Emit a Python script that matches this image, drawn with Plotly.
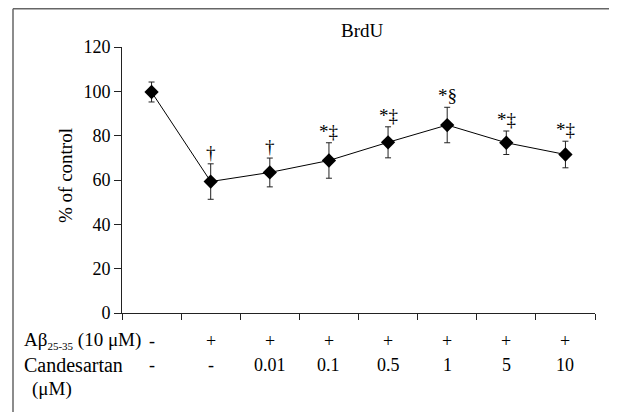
import plotly.graph_objects as go

# ---- data ----
ab_labels = ["-", "+", "+", "+", "+", "+", "+", "+"]
cand_labels = ["-", "-", "0.01", "0.1", "0.5", "1", "5", "10"]
values = [99.7, 59.3, 63.4, 68.8, 77.0, 84.8, 76.8, 71.5]
errors = [4.5, 8.0, 6.5, 8.0, 7.0, 8.0, 5.3, 6.0]
sig_marks = ["", "†", "†", "*‡", "*‡", "*§", "*‡", "*‡"]
y_ticks = [0, 20, 40, 60, 80, 100, 120]

W, H = 617, 412
OFF = 8  # page body margin
ML, MT = 122 - OFF, 47 - OFF
PW, PH = 473, 266
MR, MB = W - ML - PW, H - MT - PH
FONT = "Liberation Serif"
FS = 19
FN = 18
TXT = "black"

def px(xp):
    return (xp - OFF - ML) / PW

def py(yp):
    return (MT + PH - (yp - OFF)) / PH

xs = [i + 0.5 for i in range(len(values))]

fig = go.Figure()
fig.add_trace(go.Scatter(
    x=xs, y=values,
    mode="lines+markers",
    line=dict(color="black", width=1),
    marker=dict(symbol="diamond", size=11, color="black"),
    error_y=dict(type="data", array=errors, visible=True,
                 color="#222", thickness=1, width=3),
    showlegend=False,
))

def fnt(size=FS):
    return dict(family=FONT, size=size, color=TXT)

annotations = []
for x, v, e, s in zip(xs, values, errors, sig_marks):
    if s:
        annotations.append(dict(x=x, y=v + e, xref="x", yref="y", text=s,
                                showarrow=False, xanchor="center", yanchor="bottom",
                                yshift=-1, font=fnt()))

row_y = [py(341), py(365)]
for x, a, c in zip(xs, ab_labels, cand_labels):
    annotations.append(dict(x=x, y=row_y[0], xref="x", yref="paper", text=a,
                            xanchor="center", yanchor="middle",
                            showarrow=False, font=fnt(FN)))
    annotations.append(dict(x=x, y=row_y[1], xref="x", yref="paper", text=c,
                            xanchor="center", yanchor="middle",
                            showarrow=False, font=fnt(FN)))

annotations += [
    dict(x=px(22), y=py(341), xref="paper", yref="paper", xanchor="left", yanchor="middle",
         text="Aβ<sub><span style='font-size:11px'>25-35</span></sub> (10 μM)",
         showarrow=False, font=fnt()),
    dict(x=px(22), y=py(365), xref="paper", yref="paper", xanchor="left", yanchor="middle",
         text="Candesartan", showarrow=False, font=fnt(20)),
    dict(x=px(30), y=py(389), xref="paper", yref="paper", xanchor="left", yanchor="middle",
         text="(μM)", showarrow=False, font=fnt()),
    dict(x=px(65), y=py(176), xref="paper", yref="paper", xanchor="center", yanchor="middle",
         text="% of control", textangle=-90, showarrow=False, font=fnt()),
    dict(x=px(362), y=py(30), xref="paper", yref="paper", xanchor="center", yanchor="middle",
         text="BrdU", showarrow=False, font=fnt()),
]

shapes = [
    dict(type="line", xref="paper", yref="paper", x0=px(13), x1=px(700),
         y0=py(8.8), y1=py(8.8), line=dict(color="#666", width=1.5)),
    dict(type="line", xref="paper", yref="paper", x0=px(13), x1=px(13),
         y0=py(8.8), y1=py(500), line=dict(color="#666", width=1.5)),
]

fig.update_layout(
    width=W, height=H,
    margin=dict(l=ML, r=MR, t=MT, b=MB, autoexpand=False),
    paper_bgcolor="white", plot_bgcolor="white",
    annotations=annotations, shapes=shapes,
    xaxis=dict(range=[0, 8], tickvals=list(range(9)), ticktext=[""] * 9,
               ticks="outside", ticklen=6, tickcolor="#222", showline=True,
               linecolor="#222", linewidth=1, showgrid=False, zeroline=False,
               fixedrange=True),
    yaxis=dict(range=[0, 120], tickvals=y_ticks, ticks="outside", ticklen=7,
               tickcolor="#222", showline=True, linecolor="#222", linewidth=1,
               showgrid=False, zeroline=False,
               tickfont=fnt(FN),
               fixedrange=True),
)

fig.write_html("out.html")
